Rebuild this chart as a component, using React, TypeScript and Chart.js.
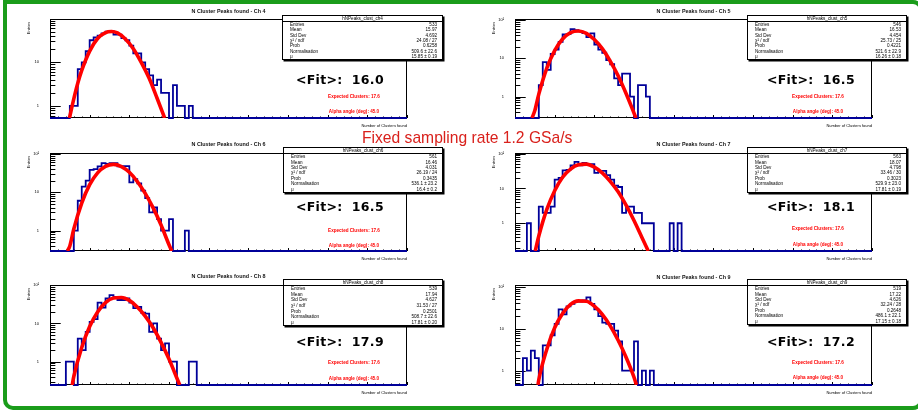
import React, { useEffect, useRef } from "react";
import { Chart, registerables } from "chart.js";

Chart.register(...registerables);

const FONT = '"Liberation Sans", Arial, Helvetica, sans-serif';

// ---------------- data ----------------
const xAxisMin = 0;
const xAxisMax = 90;
const xTickStep = 10;
const yLabelValues = [1, 10, 100];
const yLabelTexts = ["1", "10", "10²"];

const statLabels = ["Entries", "Mean", "Std Dev", "χ² / ndf", "Prob", "Normalisation", "μ"];
const channelNames = ["4", "5", "6", "7", "8", "9"];
const expectedClusters = "17.6";
const alphaAngle = "45.0";
const fitMeans = ["16.0", "16.5", "16.5", "18.1", "17.9", "17.2"];
const yRangeMin = [0.53, 0.275, 0.295, 0.16, 0.246, 0.457];
const yRangeMax = [98, 107, 105, 104, 101, 110];

// Ch 4
const ch4FirstBin = 5;
const ch4Counts = [1, 1, 7, 10, 18, 32, 37, 41, 46, 50, 52, 43, 43, 36, 32, 24, 16, 16, 10, 7, 5, 3, 4, 2, 2, 0, 3, 1, 1, 0, 1];
const ch4FitX = [4.9, 6, 7, 8, 10, 12, 14, 15.5, 17, 19, 21, 23, 25, 27, 28.9];
const ch4FitY = [0.53, 1.45, 3.3, 6.5, 18, 35, 48, 50.5, 47, 34, 20.5, 10, 4.3, 1.5, 0.53];
const ch4Stats = ["533", "15.97", "4.692", "24.08 / 27", "0.6258", "509.6 ± 22.6", "15.85 ± 0.19"];

// Ch 5
const ch5FirstBin = 6;
const ch5Counts = [2, 8, 5, 13, 17, 27, 42, 43, 58, 55, 51, 46, 36, 45, 23, 17, 14, 9, 7, 3, 2, 4, 4, 1, 0, 2, 2, 1];
const ch5FitX = [4.3, 5, 6, 8, 10, 12, 14, 16, 18, 20, 22, 24, 26, 28, 30, 30.5];
const ch5FitY = [0.275, 0.43, 1.16, 5.5, 16, 32, 47, 52, 45, 31, 18, 8.5, 3.5, 1.2, 0.37, 0.275];
const ch5Stats = ["546", "16.53", "4.454", "25.73 / 25", "0.4221", "521.6 ± 22.9", "16.26 ± 0.18"];

// Ch 6
const ch6FirstBin = 6;
const ch6Counts = [1, 6, 14, 20, 38, 40, 47, 57, 55, 57, 57, 47, 48, 48, 18, 22, 17, 11, 7, 3, 4, 2, 1, 1, 2, 0, 0, 0, 1];
const ch6FitX = [4.4, 5, 6, 8, 10, 12, 14, 16, 18, 20, 22, 24, 26, 28, 30, 30.7];
const ch6FitY = [0.295, 0.4, 1.1, 5.2, 15.7, 32, 47, 53, 46.5, 33, 19, 9.3, 3.9, 1.4, 0.43, 0.295];
const ch6Stats = ["561", "16.46", "4.031", "26.19 / 24", "0.3435", "536.1 ± 23.2", "16.4 ± 0.2"];

// Ch 7
const ch7FirstBin = 3;
const ch7Counts = [1, 0, 0, 3, 2, 2, 3, 18, 20, 33, 34, 46, 58, 46, 54, 50, 50, 28, 32, 32, 24, 18, 12, 11, 2, 3, 3, 2, 2, 1, 1, 1, 0, 0, 0, 0, 1, 0, 1];
const ch7FitX = [5.1, 6, 8, 10, 12, 14, 16, 18, 20, 22, 24, 26, 28, 30, 32, 33.6];
const ch7FitY = [0.16, 0.43, 2.45, 8.6, 21, 36, 48, 50, 41, 28, 16, 8, 3.3, 1.2, 0.39, 0.16];
const ch7Stats = ["563", "18.07", "4.798", "33.46 / 30", "0.3023", "529.9 ± 23.0", "17.81 ± 0.19"];

// Ch 8
const ch8FirstBin = 4;
const ch8Counts = [1, 1, 0, 4, 2, 6, 11, 13, 35, 26, 45, 55, 49, 41, 41, 45, 35, 25, 27, 19, 18, 6, 10, 4, 2, 3, 1, 1, 0, 0, 0, 1, 1];
const ch8FitX = [5.6, 6, 8, 10, 12, 14, 16, 18, 20, 22, 24, 26, 28, 30, 32, 32.7];
const ch8FitY = [0.246, 0.41, 2.35, 8.3, 20, 35, 46, 47.6, 40, 27, 15.6, 7.7, 3.2, 1.17, 0.37, 0.246];
const ch8Stats = ["539", "17.94", "4.627", "31.53 / 27", "0.2501", "508.7 ± 22.6", "17.81 ± 0.20"];

// Ch 9
const ch9FirstBin = 2;
const ch9Counts = [2, 1, 3, 2, 0, 4, 4, 7, 13, 29, 22, 34, 39, 44, 44, 47, 56, 39, 29, 20, 14, 13, 13, 9, 5, 1, 1, 1, 5, 0, 1, 0, 1];
const ch9FitX = [5.8, 6, 8, 10, 12, 14, 16, 18, 20, 22, 24, 26, 28, 30, 30.6];
const ch9FitY = [0.46, 0.61, 3.2, 10.5, 23, 38, 46, 45, 34.5, 22, 11.7, 5.3, 2.1, 0.7, 0.46];
const ch9Stats = ["519", "17.22", "4.626", "32.24 / 28", "0.2648", "486.1 ± 22.1", "17.15 ± 0.18"];

const firstBins = [ch4FirstBin, ch5FirstBin, ch6FirstBin, ch7FirstBin, ch8FirstBin, ch9FirstBin];
const countsList = [ch4Counts, ch5Counts, ch6Counts, ch7Counts, ch8Counts, ch9Counts];
const fitXList = [ch4FitX, ch5FitX, ch6FitX, ch7FitX, ch8FitX, ch9FitX];
const fitYList = [ch4FitY, ch5FitY, ch6FitY, ch7FitY, ch8FitY, ch9FitY];
const statsList = [ch4Stats, ch5Stats, ch6Stats, ch7Stats, ch8Stats, ch9Stats];

// ---------------- layout ----------------
type Layout = {
  fl: number; fr: number; ft: number; fb: number;
  titleCy: number;
  box: { x: number; y: number; w: number; h: number };
  fitX: number; fitCy: number; expCy: number; alphaCy: number; textCx: number;
};

const L = { fl: 50, fr: 407 };
const R = { fl: 515, fr: 872 };

const layouts: Layout[] = [
  { ...L, ft: 19, fb: 118, titleCy: 11, box: { x: 282, y: 15, w: 161, h: 45 }, fitX: 296, fitCy: 80, expCy: 97, alphaCy: 112, textCx: 354 },
  { ...R, ft: 19, fb: 118, titleCy: 11, box: { x: 747, y: 15, w: 160, h: 45 }, fitX: 767, fitCy: 80, expCy: 97.3, alphaCy: 112.3, textCx: 818 },
  { ...L, ft: 153, fb: 251, titleCy: 144, box: { x: 283, y: 147, w: 160, h: 46 }, fitX: 296, fitCy: 206.7, expCy: 230.7, alphaCy: 246, textCx: 354 },
  { ...R, ft: 153, fb: 251, titleCy: 143.5, box: { x: 747, y: 147, w: 160, h: 46 }, fitX: 767, fitCy: 206.7, expCy: 229.3, alphaCy: 245, textCx: 818 },
  { ...L, ft: 285, fb: 385, titleCy: 276, box: { x: 283, y: 279, w: 160, h: 47 }, fitX: 296, fitCy: 341.7, expCy: 362.7, alphaCy: 379, textCx: 354 },
  { ...R, ft: 285, fb: 385, titleCy: 276.5, box: { x: 747, y: 279, w: 160, h: 46 }, fitX: 767, fitCy: 341.7, expCy: 362.7, alphaCy: 378, textCx: 818 },
];

const PAD_L = 30, PAD_T = 10, PAD_R = 10, PAD_B = 10;
const Y_AXIS_W = 20, X_AXIS_H = 8;

const rootFramePlugin = {
  id: "rootFrame",
  beforeDatasetsDraw(chart: any) {
    const { ctx, chartArea: a, scales } = chart;
    const xs = scales.x, ys = scales.y;
    ctx.save();
    ctx.strokeStyle = "#000";
    ctx.lineWidth = 1;
    ctx.strokeRect(a.left + 0.5, a.top + 0.5, a.right - a.left - 1, a.bottom - a.top - 1);
    const w = a.right - a.left;
    const h = a.bottom - a.top;
    ctx.beginPath();
    for (let e = -2; e <= 3; e++) {
      for (let m = 1; m <= 9; m++) {
        const v = m * Math.pow(10, e);
        if (v < ys.min || v > ys.max) continue;
        const py = Math.round(ys.getPixelForValue(v)) + 0.5;
        const len = m === 1 ? 0.03 * w : 0.015 * w;
        ctx.moveTo(a.left, py);
        ctx.lineTo(a.left + len, py);
      }
    }
    for (let v = xAxisMin; v <= xAxisMax; v += 2) {
      const px = Math.round(xs.getPixelForValue(v)) + 0.5;
      const len = v % 10 === 0 ? 0.03 * h : 0.015 * h;
      ctx.moveTo(px, a.bottom);
      ctx.lineTo(px, a.bottom - len);
    }
    ctx.stroke();
    ctx.restore();
  },
};

function Panel({ idx }: { idx: number }) {
  const ref = useRef<HTMLCanvasElement | null>(null);
  const lay = layouts[idx];
  const cw = lay.fr - lay.fl + PAD_L + PAD_R;
  const chh = lay.fb - lay.ft + PAD_T + PAD_B;

  useEffect(() => {
    const canvas = ref.current;
    if (!canvas) return;
    const yMin = yRangeMin[idx];
    const yMax = yRangeMax[idx];
    const first = firstBins[idx];
    const counts = countsList[idx];
    const hist: { x: number; y: number }[] = [];
    let last = yMin;
    for (let b = xAxisMin; b < xAxisMax; b++) {
      const i = b - first;
      const c = i >= 0 && i < counts.length ? counts[i] : 0;
      last = c > 0 ? c : yMin;
      hist.push({ x: b, y: last });
    }
    hist.push({ x: xAxisMax, y: last });
    const fit = fitXList[idx].map((x, i) => ({ x, y: fitYList[idx][i] }));

    const chart = new Chart(canvas, {
      type: "line",
      data: {
        datasets: [
          {
            data: fit,
            borderColor: "#ff0000",
            borderWidth: 3.6,
            pointRadius: 0,
            cubicInterpolationMode: "monotone",
            fill: false,
            clip: 0,
          } as any,
          {
            data: hist,
            borderColor: "#000099",
            borderWidth: 1.8,
            pointRadius: 0,
            stepped: "before",
            fill: false,
            clip: 3,
          } as any,
        ],
      },
      options: {
        animation: false,
        responsive: false,
        maintainAspectRatio: false,
        devicePixelRatio: 1,
        events: [],
        layout: { padding: { left: PAD_L - Y_AXIS_W, top: PAD_T, right: PAD_R, bottom: PAD_B - X_AXIS_H } },
        plugins: { legend: { display: false }, tooltip: { enabled: false }, title: { display: false } },
        scales: {
          x: {
            type: "linear",
            min: xAxisMin,
            max: xAxisMax,
            grid: { display: false },
            border: { display: false },
            ticks: {
              stepSize: xTickStep,
              autoSkip: false,
              maxRotation: 0,
              padding: 2,
              color: "#333",
              font: { size: 4.2, family: FONT },
              callback: (v: any) => String(v),
            },
            afterFit: (s: any) => {
              s.height = X_AXIS_H;
              s.paddingLeft = 0;
              s.paddingRight = 0;
            },
          },
          y: {
            type: "logarithmic",
            min: yMin,
            max: yMax,
            grid: { display: false },
            border: { display: false },
            afterBuildTicks: (s: any) => {
              s.ticks = yLabelValues.filter((v) => v >= s.min && v <= s.max).map((v) => ({ value: v }));
            },
            ticks: {
              autoSkip: false,
              padding: 3,
              color: "#000",
              font: { size: 4, family: FONT },
              callback: (v: any) => {
                const k = yLabelValues.indexOf(Number(v));
                return k >= 0 ? yLabelTexts[k] : "";
              },
            },
            afterFit: (s: any) => {
              s.width = Y_AXIS_W;
              s.paddingTop = 0;
              s.paddingBottom = 0;
            },
          },
        },
      } as any,
      plugins: [rootFramePlugin],
    });
    return () => chart.destroy();
  }, [idx]);

  const box = lay.box;
  const stats = statsList[idx];
  return (
    <>
      <canvas
        ref={ref}
        width={cw}
        height={chh}
        style={{ position: "absolute", left: lay.fl - PAD_L, top: lay.ft - PAD_T, width: cw, height: chh }}
      />
      <div
        style={{
          position: "absolute",
          left: (lay.fl + lay.fr) / 2 - 100,
          width: 200,
          top: lay.titleCy - 4,
          height: 8,
          lineHeight: "8px",
          textAlign: "center",
          fontSize: 5.4,
          fontWeight: "bold",
          color: "#111",
          whiteSpace: "nowrap",
        }}
      >
        N Cluster Peaks found - Ch {channelNames[idx]}
      </div>
      <div
        style={{
          position: "absolute",
          left: lay.fl - 21 - 15,
          top: lay.ft + 9 - 3,
          width: 30,
          height: 6,
          lineHeight: "6px",
          fontSize: 4,
          textAlign: "center",
          transform: "rotate(-90deg)",
          color: "#000",
        }}
      >
        Entries
      </div>
      <div
        style={{
          position: "absolute",
          left: lay.fr - 80,
          width: 80,
          top: lay.fb + 5,
          height: 6,
          lineHeight: "6px",
          fontSize: 4,
          textAlign: "right",
          color: "#000",
          whiteSpace: "nowrap",
        }}
      >
        Number of Clusters found
      </div>
      <div
        style={{
          position: "absolute",
          left: box.x,
          top: box.y,
          width: box.w,
          height: box.h,
          boxSizing: "border-box",
          border: "1px solid #000",
          boxShadow: "1.5px 1.5px 0 #000",
          background: "#fff",
          display: "flex",
          flexDirection: "column",
          fontSize: 4.6,
          color: "#000",
        }}
      >
        <div
          style={{
            height: 5,
            lineHeight: "5px",
            borderBottom: "1px solid #000",
            textAlign: "center",
            flex: "0 0 auto",
          }}
        >
          hNPeaks_clust_ch{channelNames[idx]}
        </div>
        {statLabels.map((lab, i) => (
          <div
            key={lab}
            style={{
              flex: "1 1 0",
              display: "flex",
              justifyContent: "space-between",
              alignItems: "center",
              padding: "0 5px 0 7px",
              whiteSpace: "nowrap",
            }}
          >
            <span>{lab}</span>
            <span>{stats[i]}</span>
          </div>
        ))}
      </div>
      <div
        style={{
          position: "absolute",
          left: lay.fitX,
          top: lay.fitCy - 9,
          height: 18,
          lineHeight: "18px",
          fontFamily: '"DejaVu Sans", Verdana, sans-serif',
          fontWeight: "bold",
          fontSize: 12.5,
          letterSpacing: 0.3,
          color: "#000",
          whiteSpace: "pre",
        }}
      >
        {"<Fit>:  " + fitMeans[idx]}
      </div>
      <div
        style={{
          position: "absolute",
          left: lay.textCx - 40,
          width: 80,
          top: lay.expCy - 4,
          height: 8,
          lineHeight: "8px",
          textAlign: "center",
          fontSize: 4.6,
          fontWeight: "bold",
          color: "#ff0000",
          whiteSpace: "nowrap",
        }}
      >
        Expected Clusters: {expectedClusters}
      </div>
      <div
        style={{
          position: "absolute",
          left: lay.textCx - 40,
          width: 80,
          top: lay.alphaCy - 4,
          height: 8,
          lineHeight: "8px",
          textAlign: "center",
          fontSize: 4.6,
          fontWeight: "bold",
          color: "#ff0000",
          whiteSpace: "nowrap",
        }}
      >
        Alpha angle (deg): {alphaAngle}
      </div>
    </>
  );
}

export default function App() {
  return (
    <div
      style={{
        position: "fixed",
        left: 0,
        top: 0,
        width: 918,
        height: 410,
        overflow: "hidden",
        background: "#fff",
        fontFamily: FONT,
      }}
    >
      <div
        style={{
          position: "absolute",
          left: 3.3,
          top: 0,
          width: 920,
          height: 409.5,
          boxSizing: "border-box",
          border: "4px solid #1a9c1a",
          borderRadius: "0 10px 10px 10px",
        }}
      />
      {layouts.map((_, i) => (
        <Panel key={i} idx={i} />
      ))}
      <div
        style={{
          position: "absolute",
          left: 362,
          top: 128,
          height: 19,
          lineHeight: "19px",
          fontSize: 17,
          color: "#d9211c",
          whiteSpace: "nowrap",
          transformOrigin: "0 50%",
          transform: "scaleX(0.92)",
        }}
      >
        Fixed sampling rate 1.2 GSa/s
      </div>
    </div>
  );
}
